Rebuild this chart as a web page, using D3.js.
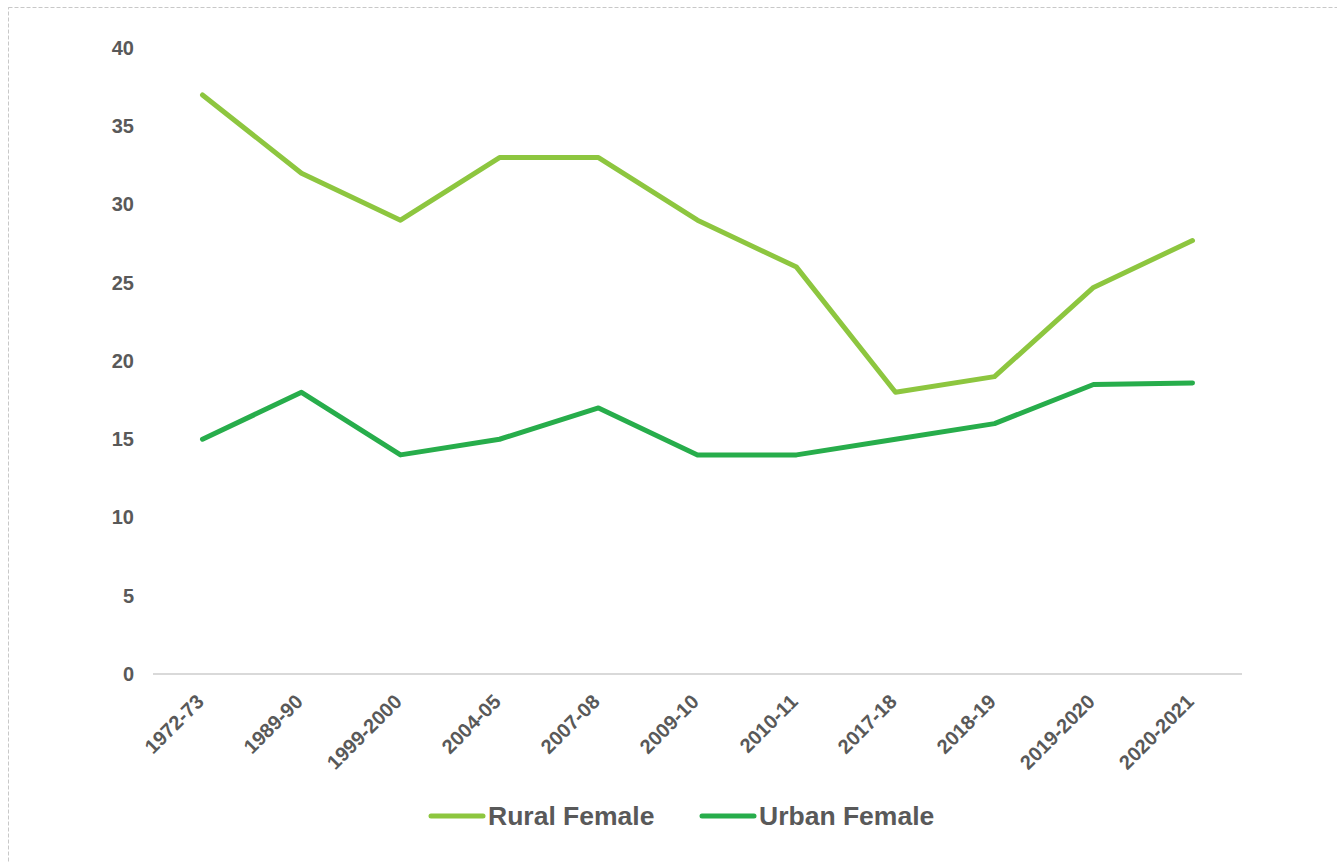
<!DOCTYPE html>
<html>
<head>
<meta charset="utf-8">
<script src="https://cdn.jsdelivr.net/npm/d3@7"></script>
<style>
  body { margin: 0; background: #fff; }
  text { font-family: "Liberation Sans", Arial, sans-serif; font-weight: bold; fill: #595959; }
</style>
</head>
<body>
<script>
var years = ["1972-73", "1989-90", "1999-2000", "2004-05", "2007-08", "2009-10",
             "2010-11", "2017-18", "2018-19", "2019-2020", "2020-2021"];
var ruralFemale = [37, 32, 29, 33, 33, 29, 26, 18, 19, 24.7, 27.7];
var urbanFemale = [15, 18, 14, 15, 17, 14, 14, 15, 16, 18.5, 18.6];
var yTicks = [0, 5, 10, 15, 20, 25, 30, 35, 40];

var series = [
    {name: "Rural Female", values: ruralFemale, color: "#8dc63f"},
    {name: "Urban Female", values: urbanFemale, color: "#27ad4b"}
];

var W = 1337, H = 862;
var margin = {top: 48, right: 95, bottom: 188, left: 153};
var width = W - margin.left - margin.right,
    height = H - margin.top - margin.bottom;

var svg = d3.select("body").append("svg")
    .attr("width", W)
    .attr("height", H);

// dashed frame
svg.append("rect")
    .attr("x", 8.5).attr("y", 7.5)
    .attr("width", W + 20).attr("height", H + 20)
    .attr("fill", "none")
    .attr("stroke", "#c8c8c8")
    .attr("stroke-dasharray", "4,2");

var g = svg.append("g")
    .attr("transform", "translate(" + margin.left + "," + margin.top + ")");

var x = d3.scalePoint()
    .domain(years)
    .range([0, width])
    .padding(0.5);

var y = d3.scaleLinear()
    .domain([0, 40])
    .range([height, 0]);

// y labels
var yAxis = d3.axisLeft(y).tickValues(yTicks).tickSize(0).tickPadding(19);
g.append("g")
    .call(yAxis)
    .call(function(s){ s.select(".domain").remove(); })
    .selectAll("text")
    .style("font-size", "20px")
    .attr("fill", "#595959");

// x axis
var xAxis = d3.axisBottom(x).tickSize(0);
var xg = g.append("g")
    .attr("transform", "translate(0," + height + ")")
    .call(xAxis);
xg.select(".domain")
    .attr("stroke", "#d9d9d9")
    .attr("stroke-width", 2)
    .attr("d", "M0,0H" + width);
xg.selectAll("text")
    .style("font-size", "20px")
    .attr("fill", "#595959")
    .attr("text-anchor", "end")
    .attr("dy", 0)
    .attr("y", 0)
    .attr("transform", "translate(2,29) rotate(-45)");

var line = d3.line()
    .x(function(d, i){ return x(years[i]); })
    .y(function(d){ return y(d); });

g.selectAll(".series")
    .data(series)
    .enter()
    .append("path")
    .attr("class", "series")
    .attr("d", function(d){ return line(d.values); })
    .attr("fill", "none")
    .attr("stroke", function(d){ return d.color; })
    .attr("stroke-width", 5)
    .attr("stroke-linecap", "round")
    .attr("stroke-linejoin", "round");

// legend
var legend = svg.append("g")
    .attr("transform", "translate(431,816)");

var item = legend.selectAll(".item")
    .data(series)
    .enter()
    .append("g")
    .attr("class", "item")
    .attr("transform", function(d, i){ return "translate(" + (i * 271) + ",0)"; });

item.append("line")
    .attr("x1", 0).attr("x2", 52)
    .attr("stroke", function(d){ return d.color; })
    .attr("stroke-width", 5)
    .attr("stroke-linecap", "round");

item.append("text")
    .attr("x", 57)
    .attr("dy", "0.35em")
    .style("font-size", "26.5px")
    .text(function(d){ return d.name; });
</script>
</body>
</html>
